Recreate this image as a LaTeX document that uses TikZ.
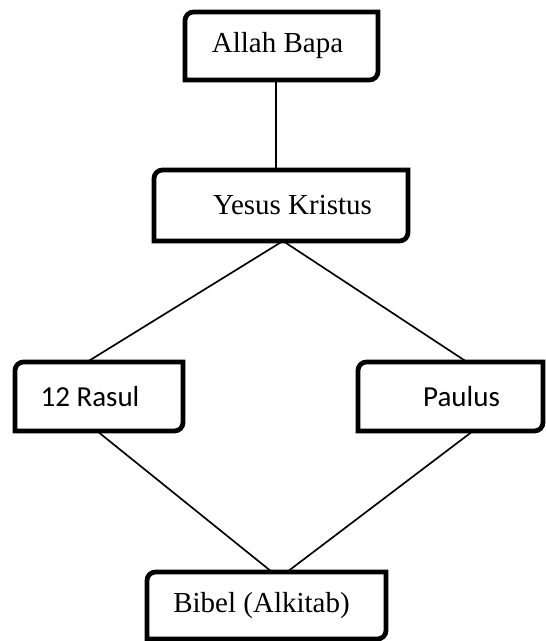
\documentclass[tikz,border=0pt]{standalone}
\usepackage{fontspec}
\usetikzlibrary{positioning}
\newfontfamily\serifface{Liberation Serif}
\newfontfamily\calface{Carlito}
\newcommand{\cornerr}{0.17cm}
% frame with the top left and bottom right corners rounded
\newcommand{\diagframe}[1]{%
  \draw[frame] (#1.south west) -- ([yshift=-\cornerr]#1.north west)
    arc[start angle=180,end angle=90,radius=\cornerr]
    -- (#1.north east) -- ([yshift=\cornerr]#1.south east)
    arc[start angle=0,end angle=-90,radius=\cornerr] -- cycle;}

\begin{document}
\begin{tikzpicture}[
  box/.style={inner sep=0pt,outer sep=0pt,minimum height=1.38cm,
              text centered,font=\fontsize{16.5}{20}\selectfont},
  tbox/.style={box,font=\fontsize{16.5}{20}\selectfont\serifface},
  cbox/.style={box,font=\fontsize{16.5}{20}\selectfont\calface},
  frame/.style={line width=2.7pt,black},
  link/.style={line width=0.95pt,black}
]
  \useasboundingbox (0,0) rectangle (10.92,-12.82);
  \node[tbox,minimum width=3.86cm,minimum height=1.36cm] (ab) at (5.63,-0.92)
        {Allah Bapa\hspace*{0.16cm}};
  \node[tbox,minimum width=5.08cm,minimum height=1.42cm] (yk) at (5.62,-4.11)
        {\hspace*{0.46cm}Yesus Kristus};
  \node[cbox,minimum width=3.36cm] (rs) at (1.98,-7.93)
        {12 Rasul\hspace*{0.36cm}};
  \node[cbox,minimum width=3.70cm] (pl) at (9.01,-7.93)
        {\hspace*{0.44cm}Paulus};
  \node[tbox,minimum width=4.78cm,minimum height=1.34cm] (bb) at (5.33,-12.11)
        {Bibel (Alkitab)\hspace*{0.2cm}};
  \draw[link] ([xshift=-0.11cm]ab.south) -- ([xshift=-0.11cm]ab.south |- yk.north);
  \draw[link] ([xshift=0.04cm]yk.south) -- ([xshift=-0.24cm]rs.north);
  \draw[link] ([xshift=0.04cm]yk.south) -- ([xshift=0.33cm]pl.north);
  \draw[link] ([xshift=-0.04cm]rs.south) -- ([xshift=0.11cm]bb.north);
  \draw[link] ([xshift=0.45cm]pl.south) -- ([xshift=0.41cm]bb.north);
  \foreach \b in {ab,yk,rs,pl,bb} {\diagframe{\b}}
\end{tikzpicture}
\end{document}
